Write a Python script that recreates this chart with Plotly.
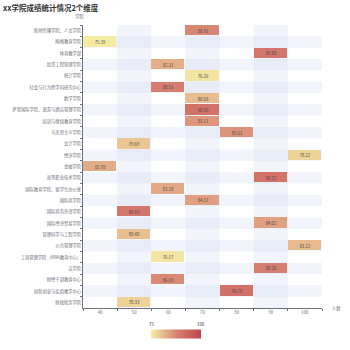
import plotly.graph_objects as go

title_text = "xx学院成绩统计情况2个维度"
x_categories = ["40", "50", "60", "70", "80", "90", "100"]
schools = [
    "新闻传播学院、人文学院",
    "网络教育学院",
    "体育教学部",
    "投资工程管理学院",
    "统计学院",
    "社会与行为跨学科研究中心",
    "数学学院",
    "萨里国际学院、旅游与酒店管理学院",
    "培训与继续教育学院",
    "马克思主义学院",
    "会计学院",
    "经济学院",
    "金融学院",
    "高等职业技术学院",
    "国际教育学院、留学生办公室",
    "国际商学院",
    "国际商务外语学院",
    "国际经济贸易学院",
    "管理科学与工程学院",
    "公共管理学院",
    "工商管理学院（MBA教育中心）",
    "法学院",
    "财经干部教育中心",
    "创新创业与实验教学中心",
    "财政税务学院",
]
school_x = ["70", "40", "90", "60", "70", "60", "70", "70", "70", "80", "50", "100", "40",
            "90", "60", "70", "50", "90", "50", "100", "60", "90", "60", "80", "50"]
scores = [86.91, 75.39, 89.88, 82.31, 76.26, 88.51, 80.68, 90.59, 85.11, 85.51, 79.69, 78.22, 82.78,
          90.72, 83.10, 84.22, 89.93, 84.02, 80.48, 81.22, 76.17, 88.26, 86.69, 90.78, 78.33]
vmin, vmax = 75, 100

z = [[None] * len(x_categories) for _ in schools]
for r, (xs, v) in enumerate(zip(school_x, scores)):
    z[r][x_categories.index(xs)] = v

font_family = "Noto Sans CJK SC, Noto Sans, sans-serif"
axis_col = "#6E7079"

W, H = 350, 350
ml, mr, mt, mb = 79, 28, 25, 38
plot_w = W - ml - mr
cb_x, cb_y, cb_len = 0.39, -0.092, 50

fig = go.Figure()
fig.add_trace(go.Heatmap(
    x=x_categories, y=schools, z=z,
    zmin=vmin, zmax=vmax,
    colorscale=[[0, "#f6efa6"], [0.5, "#d88273"], [1, "#bf444c"]],
    xgap=1, ygap=1,
    texttemplate="%{z:.2f}",
    textfont=dict(size=4.3, color="#444", family=font_family),
    hoverongaps=False,
    colorbar=dict(
        orientation="h", x=cb_x, xanchor="center", y=cb_y, yanchor="middle",
        lenmode="pixels", len=cb_len, thickness=9, outlinewidth=0, xpad=0, ypad=0,
        showticklabels=False, ticks="",
    ),
))

shapes = []
blue = "rgba(210,219,238,0.3)"
for i in range(len(x_categories)):
    if i % 2 == 1:
        shapes.append(dict(type="rect", xref="x", yref="paper", x0=i - 0.5, x1=i + 0.5, y0=0, y1=1,
                           fillcolor=blue, line=dict(width=0), layer="below"))
for j in range(len(schools)):
    if j % 2 == 1:
        shapes.append(dict(type="rect", xref="paper", yref="y", x0=0, x1=1, y0=j - 0.5, y1=j + 0.5,
                           fillcolor=blue, line=dict(width=0), layer="below"))

half = cb_len / 2 / plot_w
annotations = [
    dict(text="学院", xref="paper", yref="paper", x=0, y=1, yshift=9, xshift=-4,
         showarrow=False, font=dict(size=4.3, color=axis_col), xanchor="center", yanchor="middle"),
    dict(text="人数", xref="paper", yref="paper", x=1, y=0, xshift=8,
         showarrow=False, font=dict(size=4.3, color=axis_col), xanchor="left", yanchor="middle"),
]
for val, xp in ((vmin, cb_x - half), (vmax, cb_x + half)):
    annotations.append(dict(text=str(val), xref="paper", yref="paper", x=xp, y=cb_y, yshift=10,
                            showarrow=False, font=dict(size=4.3, color="#333"),
                            xanchor="center", yanchor="middle"))

fig.update_layout(
    width=W, height=H,
    margin=dict(l=ml, r=mr, t=mt, b=mb),
    paper_bgcolor="white", plot_bgcolor="white",
    font=dict(family=font_family),
    title=dict(text="<b>" + title_text + "</b>", x=3 / W, xanchor="left", xref="container",
               y=1 - 8 / H, yanchor="middle", yref="container",
               font=dict(size=7.5, color="#333", family=font_family)),
    shapes=shapes,
    annotations=annotations,
)
fig.update_xaxes(type="category", categoryorder="array", categoryarray=x_categories,
                 showgrid=False, zeroline=False, showline=True, linecolor=axis_col, linewidth=1,
                 ticks="outside", tickson="boundaries", ticklen=2, tickcolor=axis_col,
                 tickfont=dict(size=4.3, color=axis_col), fixedrange=True)
fig.update_yaxes(type="category", categoryorder="array", categoryarray=schools, autorange="reversed",
                 showgrid=False, zeroline=False, showline=True, linecolor=axis_col, linewidth=1,
                 ticks="outside", tickson="boundaries", ticklen=2, tickcolor=axis_col,
                 tickfont=dict(size=4.3, color=axis_col), fixedrange=True)

fig.write_html("out.html")
